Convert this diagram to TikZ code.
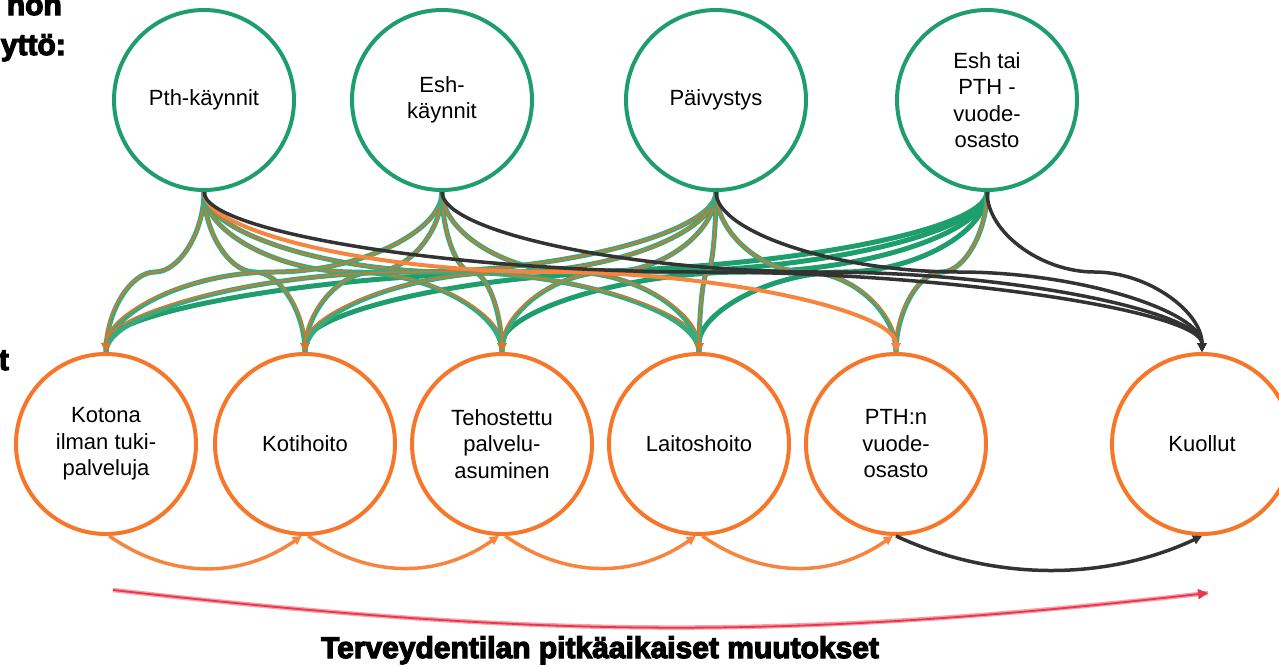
\documentclass[tikz,border=0pt]{standalone}
\usepackage{fontspec}
\setmainfont{Liberation Sans}
\newfontfamily\heavyfont[FakeBold=4]{Liberation Sans Bold}
\usetikzlibrary{arrows.meta,calc}
\definecolor{cgreen}{HTML}{1E9E6C}
\definecolor{corange}{HTML}{F6762A}
\definecolor{cbrown}{HTML}{DC742A}
\definecolor{cblack}{HTML}{333333}
\definecolor{cred}{HTML}{E8364C}
\definecolor{cpink}{HTML}{F7A1AB}
\newcommand\myconn[3]{%
  \path (#2) -- coordinate[pos=.25](q1) coordinate[pos=.5](qm) coordinate[pos=.75](q3) (#3);
  \draw[#1] (#2) .. controls (#2 |- q1) and (q1 |- qm) .. (qm) .. controls (q3 |- qm) and (#3 |- q3) .. (#3);
}
\tikzset{
  cfont/.style={font=\fontsize{22}{26.5}\selectfont},
  topc/.style={circle, draw=cgreen, line width=4pt, minimum size=180pt, inner sep=0pt, align=center, cfont},
  botc/.style={circle, draw=corange, line width=4pt, minimum size=180pt, inner sep=0pt, align=center, cfont},
  tipo/.style={-{Triangle[length=9pt,width=9pt]}},
  goout/.style={draw=cgreen!88!white, line width=5pt},
  goin/.style={draw=cbrown, line width=1.6pt, tipo, color=cbrown},
  greenl/.style={draw=cgreen, line width=5pt, -{Triangle[length=9pt,width=9pt]}},
  orl/.style={draw=corange!90!white, line width=4pt, -{Triangle[length=9pt,width=9pt]}},
  blk/.style={draw=cblack, line width=3.5pt, -{Triangle[length=9pt,width=9pt]}},
  botarr/.style={draw=corange!90!white, line width=3.5pt, -{Triangle[length=9pt,width=9pt]}},
  heavy/.style={font=\heavyfont\fontsize{30}{36}\selectfont, inner sep=0pt},
}
\begin{document}
\begin{tikzpicture}[x=1pt,y=1pt]
\useasboundingbox (0,0) rectangle (1279,-665);
% side texts
\node[heavy, anchor=base east] (t1) at (62,-15) {non};
\node[heavy, anchor=base east] (t2) at (66,-55) {yttö:};
\node[heavy, anchor=base east] (t3) at (9,-370) {t};
% top circles
\node[topc] (pth) at (204,-100) {Pth-käynnit};
\node[topc] (esh) at (442,-100) {Esh-\\käynnit};
\node[topc] (paiv) at (716,-100) {Päivystys};
\node[topc] (eshv) at (987,-100) {Esh tai\\PTH -\\vuode-\\osasto};
% bottom circles
\node[botc] (kot) at (106,-444) {Kotona\\ilman tuki-\\palveluja};
\node[botc] (koti) at (305,-444) {Kotihoito};
\node[botc] (teh) at (502,-444) {Tehostettu\\palvelu-\\asuminen};
\node[botc] (lait) at (699,-444) {Laitoshoito};
\node[botc] (pthv) at (896,-444) {PTH:n\\vuode-\\osasto};
\node[botc] (kuol) at (1202,-444) {Kuollut};
% green lines from Esh tai PTH
\foreach \t in {kot,koti,teh,lait}{\myconn{greenl}{eshv.south}{\t.north}}
% green/orange lines
\foreach \s/\t in {pth/kot,pth/koti,pth/teh,pth/lait,esh/kot,esh/koti,esh/teh,esh/lait,paiv/kot,paiv/koti,paiv/teh,paiv/lait,paiv/pthv,eshv/pthv}{%
  \myconn{goout}{\s.south}{\t.north}%
  \myconn{goin}{\s.south}{\t.north}}
% orange line
\myconn{orl}{pth.south}{pthv.north}
% black lines
\foreach \s in {pth,esh,paiv,eshv}{\myconn{blk}{\s.south}{kuol.north}}
% bottom arrows
\draw[botarr] (kot.-88) to[out=-35,in=-145] (koti.-92);
\draw[botarr] (koti.-88) to[out=-35,in=-145] (teh.-92);
\draw[botarr] (teh.-88) to[out=-35,in=-145] (lait.-92);
\draw[botarr] (lait.-88) to[out=-35,in=-145] (pthv.-92);
\draw[blk] (pthv.-90) to[out=-25,in=-155,looseness=0.9] (kuol.-90);
% red arrow
\coordinate (rs) at (113,-590);
\coordinate (re) at (1208,-593);
\draw[cpink, line width=4.5pt] (rs) .. controls (538,-638) and (783,-641) .. (re);
\draw[cred, line width=1.8pt, -{Triangle[length=10pt,width=10pt]}] (rs) .. controls (538,-638) and (783,-641) .. (re);
\node[heavy, anchor=base] (title) at (600,-658) {Terveydentilan pitkäaikaiset muutokset};
\end{tikzpicture}
\end{document}
